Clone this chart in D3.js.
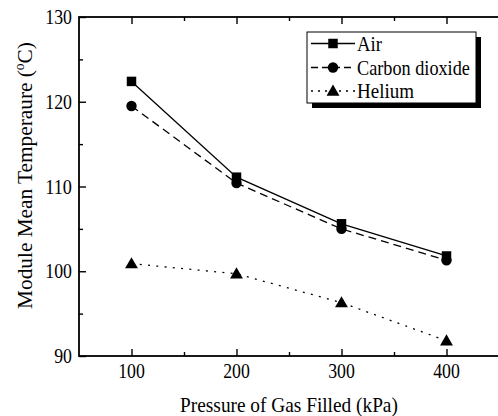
<!DOCTYPE html>
<html>
<head>
<meta charset="utf-8">
<script src="https://cdn.jsdelivr.net/npm/d3@7"></script>
<style>
  html, body { margin: 0; padding: 0; background: #fff; }
  svg { display: block; }
</style>
</head>
<body>
<svg id="chart" width="498" height="416"></svg>
<script>
// Filling pressure (kPa) and module mean temperature (°C) per filling gas
const pressures = [100, 200, 300, 400];
const airTemps = [122.4, 111.1, 105.6, 101.8];
const co2Temps = [119.5, 110.4, 105.0, 101.3];
const heliumTemps = [100.9, 99.7, 96.3, 91.8];
const seriesNames = ["Air", "Carbon dioxide", "Helium"];
const xTicks = [100, 200, 300, 400];
const yTicks = [90, 100, 110, 120, 130];

const series = [
  { name: seriesNames[0], values: airTemps, dash: null, marker: "square", w: 25 },
  { name: seriesNames[1], values: co2Temps, dash: "8,5", marker: "circle", w: 113 },
  { name: seriesNames[2], values: heliumTemps, dash: "2,6.3", marker: "triangle", w: 57 }
];

const FONT = "Liberation Serif";
const svg = d3.select("#chart");
const mLeft = 79, mTop = 17, mRight = 499, mBottom = 356;

const x = d3.scaleLinear().domain([50, 450]).range([mLeft, mRight]);
const y = d3.scaleLinear().domain([90, 130]).range([mBottom, mTop]);

// text squeezed horizontally to a given run width
function label(g, tx, ty, str, anchor, size, width, rot) {
  const t = g.append("text")
    .attr("text-anchor", anchor || "start")
    .style("font-family", FONT)
    .style("font-size", size + "px")
    .attr("fill", "#000");
  if (typeof str === "function") str(t); else t.text(str);
  const natural = t.node().getComputedTextLength();
  const sx = width ? width / natural : 0.85;
  t.attr("transform", `translate(${tx},${ty})` + (rot ? ` rotate(${rot})` : "") + ` scale(${sx},1)`);
  return t;
}

// frame
svg.append("rect")
  .attr("x", mLeft).attr("y", mTop)
  .attr("width", mRight - mLeft).attr("height", mBottom - mTop)
  .attr("fill", "none").attr("stroke", "#000").attr("stroke-width", 1.8);

// inward ticks on all four sides (major + minor)
function ticks(axisFn, scale, values, len, transform) {
  const g = svg.append("g").attr("transform", transform)
    .call(axisFn(scale).tickValues(values).tickSize(len).tickFormat(""));
  g.select(".domain").remove();
  g.selectAll(".tick line").attr("stroke", "#000").attr("stroke-width", 1.4);
  return g;
}
const xMinor = [150, 250, 350];
const yMinor = [95, 105, 115, 125];
ticks(d3.axisTop, x, xTicks, 7, `translate(0,${mBottom})`);
ticks(d3.axisTop, x, xMinor, 4, `translate(0,${mBottom})`);
ticks(d3.axisBottom, x, xTicks, 7, `translate(0,${mTop})`);
ticks(d3.axisBottom, x, xMinor, 4, `translate(0,${mTop})`);
ticks(d3.axisRight, y, yTicks, 7, `translate(${mLeft},0)`);
ticks(d3.axisRight, y, yMinor, 4, `translate(${mLeft},0)`);

// tick labels (digits about 8.9px wide each)
const lab = svg.append("g");
xTicks.forEach(v => label(lab, x(v), 378, String(v), "middle", 21, 8.9 * String(v).length));
yTicks.forEach(v => label(lab, 72, y(v) + 7, String(v), "end", 21, 8.9 * String(v).length));

// axis titles
label(svg, x(250), 411.5, "Pressure of Gas Filled (kPa)", "middle", 22, 218);
label(svg, 32, 175.5, t => {
  t.append("tspan").text("Module Mean Temperaure (");
  t.append("tspan").style("font-size", "14px").attr("dy", -8).text("o");
  t.append("tspan").attr("dy", 8).text("C)");
}, "middle", 22, 267, -90);

// markers
const sym = {
  square: d3.symbol().type(d3.symbolSquare).size(90),
  circle: d3.symbol().type(d3.symbolCircle).size(85),
  triangle: d3.symbol().type(d3.symbolTriangle).size(72)
};

const line = d3.line().x((d, i) => x(pressures[i])).y(d => y(d));
const plot = svg.append("g");
series.forEach(s => {
  plot.append("path")
    .attr("d", line(s.values))
    .attr("fill", "none").attr("stroke", "#000").attr("stroke-width", 1.3)
    .attr("stroke-dasharray", s.dash);
  plot.selectAll(null).data(s.values).enter().append("path")
    .attr("d", sym[s.marker])
    .attr("transform", (d, i) => `translate(${x(pressures[i])},${y(d) + (s.marker === "triangle" ? 1 : 0)})`)
    .attr("fill", "#000");
});

// legend
const lg = svg.append("g");
const lx = 307, ly = 32, lw = 169, lh = 71;
lg.append("rect").attr("x", lx + 5).attr("y", ly + 5).attr("width", lw).attr("height", lh).attr("fill", "#000");
lg.append("rect").attr("x", lx).attr("y", ly).attr("width", lw).attr("height", lh)
  .attr("fill", "#fff").attr("stroke", "#000").attr("stroke-width", 1);
const rows = [43.5, 67.5, 91];
series.forEach((s, i) => {
  const ry = rows[i];
  lg.append("line").attr("x1", 311).attr("x2", 355).attr("y1", ry).attr("y2", ry)
    .attr("stroke", "#000").attr("stroke-width", 1.3)
    .attr("stroke-dasharray", s.dash ? (s.marker === "circle" ? "7,4" : "2,5") : null);
  lg.append("path").attr("d", sym[s.marker])
    .attr("transform", `translate(333,${ry + (s.marker === "triangle" ? 1 : 0)})`).attr("fill", "#000");
  label(lg, 357, ry + 7, s.name, "start", 22, s.w);
});
</script>
</body>
</html>
